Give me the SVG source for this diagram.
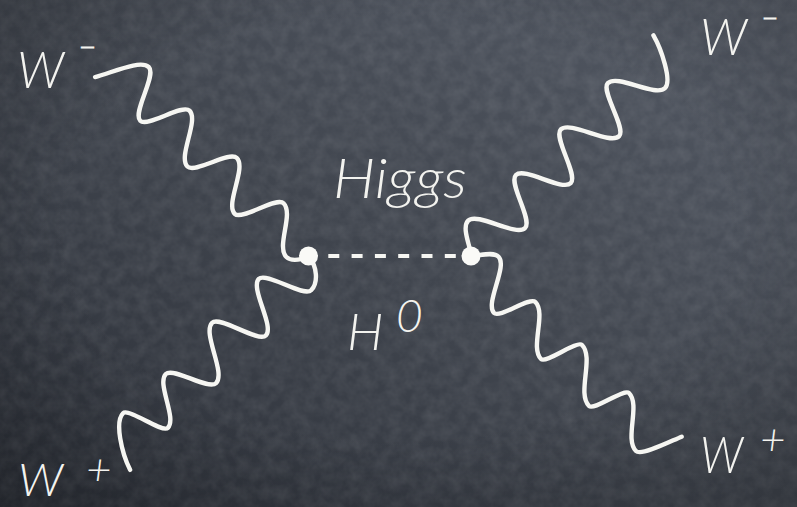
<svg xmlns="http://www.w3.org/2000/svg" width="797" height="507" viewBox="0 0 797 507">
<defs>
<linearGradient id="bg" x1="1" y1="0" x2="0" y2="1">
<stop offset="0" stop-color="#545a65"/>
<stop offset="0.5" stop-color="#41464f"/>
<stop offset="1" stop-color="#2b2f37"/>
</linearGradient>
<radialGradient id="vig" cx="0.5" cy="0.45" r="0.75">
<stop offset="0.55" stop-color="#000" stop-opacity="0"/>
<stop offset="1" stop-color="#000" stop-opacity="0.25"/>
</radialGradient>
<filter id="chalk" x="0" y="0" width="100%" height="100%">
<feTurbulence type="fractalNoise" baseFrequency="0.08" numOctaves="3" seed="7"/>
<feColorMatrix type="matrix" values="0 0 0 0 1  0 0 0 0 1  0 0 0 0 1  0.14 0 0 0 -0.04"/>
</filter>
<style>
.wave{fill:none;stroke:#f6f6f2;stroke-width:4.4;stroke-linecap:round;stroke-linejoin:round}
.dash{fill:none;stroke:#f6f6f2;stroke-width:4.2;stroke-dasharray:11 12.3}
.dot{fill:#fafaf7}
.lbl{fill:#f3f3ef;font-family:"Lato","Open Sans","Liberation Sans",sans-serif;font-style:italic;font-weight:300}
.sup{fill:#f3f3ef;stroke:#f3f3ef;stroke-width:1.3;font-family:"Lato","Open Sans","Liberation Sans",sans-serif;font-weight:300}
</style>
</defs>
<rect width="797" height="507" fill="url(#bg)"/>
<rect width="797" height="507" filter="url(#chalk)"/>
<rect width="797" height="507" fill="url(#vig)"/>

<g id="connectors">
<path id="wave-ul" class="wave" transform="translate(309,257) rotate(45)" d="M -278.5,24 C -270,10 -259,-21 -247.5,-21 C -236,-21 -227.2,23 -215.7,23 C -205.7,23 -198,-19 -188,-19 C -174.2,-19 -163.8,22 -150,22 C -139.5,22 -131.5,-19 -121,-19 C -107.2,-19 -96.8,22 -83,22 C -73.2,22 -65.8,-20 -56,-20 C -41.1,-20 -30.9,16 -16,16 C -9,16 -4,8 0,0"/>
<path id="wave-ll" class="wave" transform="translate(309,257) rotate(-45)" d="M -277,24 C -271,6 -254,-21 -242,-21 C -234.2,-21 -228.4,21 -220.6,21 C -207.3,21 -197.3,-18.5 -184,-18.5 C -173.5,-18.5 -165.5,23.5 -155,23.5 C -140.5,23.5 -129.5,-22 -115,-22 C -104.5,-22 -96.5,25 -86,25 C -73.3,25 -63.7,-20 -51,-20 C -40.5,-20 -32.5,25 -22,25 C -12,25 -1,13 0,0"/>
<path id="wave-ur" class="wave" transform="translate(471,256) rotate(-45)" d="M 0,0 C 6,-6 13,-27 23,-27 C 35.7,-27 45.3,18.5 58,18.5 C 69.3,18.5 77.7,-25.5 89,-25.5 C 101,-25.5 110,19 122,19 C 133.3,19 141.7,-26 153,-26 C 166.2,-26 176.3,20 189.5,20 C 200.2,20 208.3,-25.5 219,-25.5 C 232.4,-25.5 242.6,18.5 256,18.5 C 266,18.5 281,-12 285,-27"/>
<path id="wave-lr" class="wave" transform="translate(471,256) rotate(45)" d="M 0,0 C 6,-6 12,-19 20,-19 C 33.3,-19 43.3,24 56.6,24 C 64.4,24 70.2,-13 78,-13 C 94,-13 106.3,23.3 122.3,23.3 C 129.2,23.3 134.5,-15.6 141.4,-15.6 C 158.9,-15.6 172,22.6 189.5,22.6 C 196.4,22.6 201.7,-14.8 208.6,-14.8 C 225.3,-14.8 237.8,21.2 254.5,21.2 C 262,21.2 272,-10 276.7,-21.2"/>
<line id="higgs-propagator" class="dash" x1="328.3" y1="256" x2="455.8" y2="256"/>
</g>

<g id="vertex-left"><circle class="dot" cx="308.5" cy="256" r="9.5"/></g>
<g id="vertex-right"><circle class="dot" cx="471" cy="256" r="9.5"/></g>

<g id="label-w-minus-left"><text class="lbl" font-size="52" x="17" y="88" textLength="47" lengthAdjust="spacingAndGlyphs">W</text><text class="sup" font-size="22" x="79" y="54" textLength="17" lengthAdjust="spacingAndGlyphs">-</text></g>
<g id="label-w-minus-right"><text class="lbl" font-size="52" x="700" y="55" textLength="47" lengthAdjust="spacingAndGlyphs">W</text><text class="sup" font-size="20" x="762" y="23.5" textLength="16" lengthAdjust="spacingAndGlyphs">-</text></g>
<g id="label-w-plus-left"><text class="lbl" font-size="46" x="18" y="496" textLength="45" lengthAdjust="spacingAndGlyphs">W</text><text class="lbl" font-size="44" x="86" y="485" font-style="normal">+</text></g>
<g id="label-w-plus-right"><text class="lbl" font-size="52" x="700" y="473" textLength="43" lengthAdjust="spacingAndGlyphs">W</text><text class="lbl" font-size="44" x="760" y="455" font-style="normal">+</text></g>
<g id="label-higgs"><text class="lbl" font-size="55" x="333" y="198" textLength="134" lengthAdjust="spacingAndGlyphs">Higgs</text></g>
<g id="label-h0"><text class="lbl" font-size="52" x="347" y="350">H</text><text class="lbl" font-size="46" x="396" y="332" font-style="normal">0</text></g>
</svg>
